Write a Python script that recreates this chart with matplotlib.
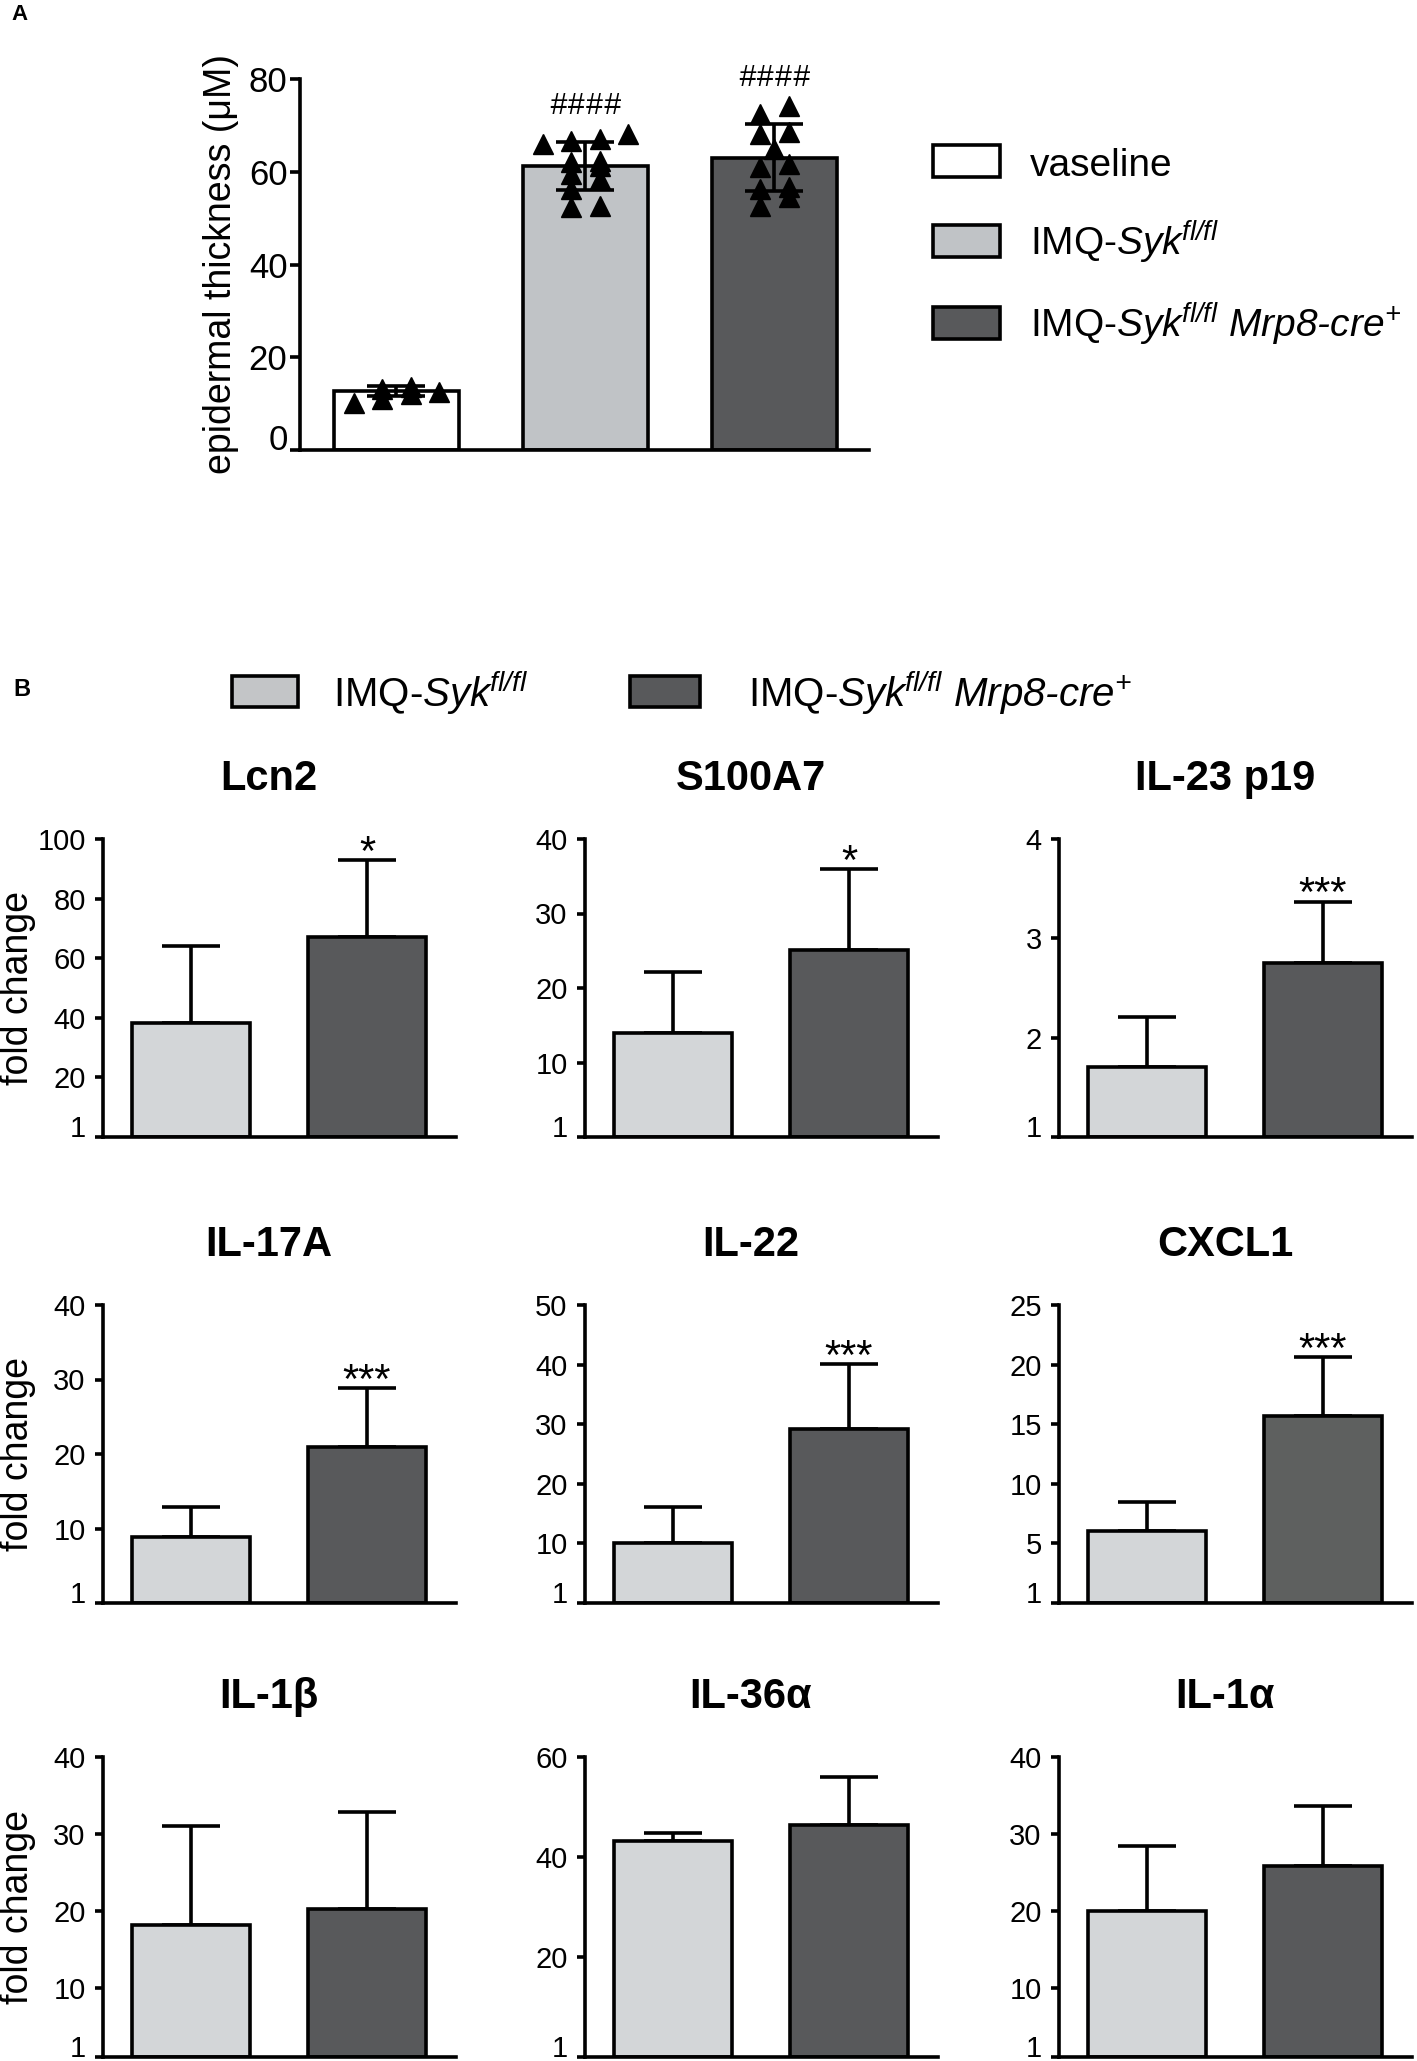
import numpy as np
import matplotlib
matplotlib.use('Agg')
import matplotlib.pyplot as plt
from matplotlib.patches import Rectangle

plt.rcParams['font.family'] = ['Liberation Sans', 'DejaVu Sans']
plt.rcParams['mathtext.fontset'] = 'custom'
plt.rcParams['mathtext.rm'] = 'Liberation Sans:italic'
plt.rcParams['mathtext.it'] = 'Liberation Sans:italic'
plt.rcParams['mathtext.bf'] = 'Liberation Sans:bold'

# ---------------- data ----------------
# Panel A: epidermal thickness
a_groups = ['vaseline', 'IMQ-Syk fl/fl', 'IMQ-Syk fl/fl Mrp8-cre+']
a_means = [12.7, 61.2, 63.0]
a_sd = [1.1, 5.2, 7.2]
a_pts_vaseline = [13.6, 12.5, 10.2, 11.0, 13.2, 12.0]
a_pts_flfl = [66.0, 67.1, 66.7, 68.1, 62.1, 61.3, 62.4, 59.5, 58.5, 56.3, 52.4, 52.7]
a_pts_cre = [72.5, 74.2, 68.5, 68.1, 64.9, 61.7, 61.0, 56.3, 56.7, 54.5, 52.7]
a_sig = ['', '####', '####']
a_yticks = [0, 20, 40, 60, 80]

# Panel B: fold change (mean, upper SD)
b_genes = ['Lcn2', 'S100A7', 'IL-23 p19', 'IL-17A', 'IL-22', 'CXCL1',
           'IL-1β', 'IL-36α', 'IL-1α']
b_flfl_mean = [38.2, 14.0, 1.70, 8.9, 10.1, 6.0, 18.1, 43.2, 20.0]
b_flfl_err = [26.0, 8.1, 0.51, 4.0, 6.0, 2.45, 12.9, 1.6, 8.4]
b_cre_mean = [67.2, 25.1, 2.75, 20.9, 29.2, 15.7, 20.2, 46.5, 25.8]
b_cre_err = [25.8, 10.9, 0.62, 8.0, 10.9, 4.9, 12.7, 9.5, 7.8]
b_sig = ['*', '*', '***', '***', '***', '***', '', '', '']
b_yticks = [[0, 20, 40, 60, 80, 100], [0, 10, 20, 30, 40], [1, 2, 3, 4],
            [0, 10, 20, 30, 40], [0, 10, 20, 30, 40, 50], [0, 5, 10, 15, 20, 25],
            [1, 10, 20, 30, 40], [0, 20, 40, 60], [1, 10, 20, 30, 40]]
b_yticklabels = [['1', '20', '40', '60', '80', '100'], ['1', '10', '20', '30', '40'],
                 ['1', '2', '3', '4'], ['1', '10', '20', '30', '40'],
                 ['1', '10', '20', '30', '40', '50'], ['1', '5', '10', '15', '20', '25'],
                 ['1', '10', '20', '30', '40'], ['1', '20', '40', '60'],
                 ['1', '10', '20', '30', '40']]

# ---------------- style ----------------
W, H, DPI = 1417, 2061, 100
LW = 2.6
C_WHITE = '#ffffff'
C_A_LIGHT = '#c0c3c6'
C_B_LIGHT = '#d3d6d8'
C_DARK = '#58595b'
C_DARK_ALT = {'CXCL1': '#5e605f'}

# mathtext rm is italic here, so everything inside $...$ is italic
LBL_FLFL = r'IMQ-$\mathrm{Syk}^{\mathrm{fl/fl}}$'
LBL_CRE = r'IMQ-$\mathrm{Syk}^{\mathrm{fl/fl}}$ $\mathrm{Mrp8}$$\text{-}$$\mathrm{cre}^{+}$'

fig = plt.figure(figsize=(W / DPI, H / DPI), dpi=DPI)


def px_axes(left, top, right, bottom):
    return fig.add_axes([left / W, 1 - bottom / H, (right - left) / W, (bottom - top) / H])


def fx(x):
    return x / W


def fy(y):
    return 1 - y / H


def style_axes(ax, lab_size, tick_len, pad):
    for s in ['top', 'right']:
        ax.spines[s].set_visible(False)
    for s in ['left', 'bottom']:
        ax.spines[s].set_linewidth(LW)
    ax.tick_params(axis='y', length=tick_len, width=LW, labelsize=lab_size, pad=pad)
    ax.tick_params(axis='x', length=0, labelbottom=False)


def lift_bottom_label(ax):
    labs = ax.get_yticklabels()
    if labs:
        labs[0].set_verticalalignment('baseline')


def swarm(values, bin_width, step):
    v = np.asarray(values, float)
    order = np.argsort(v)
    offs = np.zeros(len(v))
    groups, cur = [], [order[0]]
    for idx in order[1:]:
        if v[idx] - v[cur[0]] <= bin_width:
            cur.append(idx)
        else:
            groups.append(cur)
            cur = [idx]
    groups.append(cur)
    for g in groups:
        n = len(g)
        for k, idx in enumerate(g):
            offs[idx] = (k - (n - 1) / 2) * step
    return offs


# ---------------- Panel A ----------------
fig.text(fx(20), fy(15), 'A', fontsize=16, fontweight='bold', ha='center', va='center')
axA = px_axes(300, 79, 869, 450)
xa = np.arange(len(a_groups))
axA.bar(xa, a_means, width=0.66, color=[C_WHITE, C_A_LIGHT, C_DARK],
        edgecolor='black', linewidth=LW, zorder=2)
for i, pts in enumerate([a_pts_vaseline, a_pts_flfl, a_pts_cre]):
    offs = swarm(pts, 2.5, 0.15)
    axA.plot(xa[i] + offs, pts, linestyle='none', marker='^', markersize=14,
             color='black', zorder=4)
    if a_sig[i]:
        axA.annotate(a_sig[i], xy=(xa[i], max(pts)), xytext=(0, 20),
                     textcoords='offset points', ha='center', va='center',
                     fontsize=22, family='Liberation Mono', annotation_clip=False)
axA.errorbar(xa, a_means, yerr=a_sd, fmt='none', ecolor='black', elinewidth=LW,
             capsize=21, capthick=LW, zorder=3)
axA.set_xlim(-0.51, 2.5)
axA.set_ylim(0, 80)
axA.set_yticks(a_yticks)
style_axes(axA, 25, 7, 2)
lift_bottom_label(axA)
axA.set_ylabel('epidermal thickness (μM)', fontsize=27)
axA.yaxis.set_label_coords(-0.108, 0.5)

# Legend A
for lbl, col, yc in zip(['vaseline', LBL_FLFL, LBL_CRE], [C_WHITE, C_A_LIGHT, C_DARK],
                        [161, 241, 323]):
    fig.patches.append(Rectangle((fx(933), fy(yc + 15.5)), 67 / W, 31 / H,
                                 transform=fig.transFigure, facecolor=col,
                                 edgecolor='black', linewidth=LW))
    fig.text(fx(1030), fy(yc + 15), lbl, fontsize=28, ha='left', va='baseline')

# ---------------- Panel B ----------------
fig.text(fx(22), fy(689), 'B', fontsize=17, fontweight='bold', ha='center', va='center')
fig.patches.append(Rectangle((fx(232), fy(707)), 66 / W, 31 / H, transform=fig.transFigure,
                             facecolor='#c3c5c7', edgecolor='black', linewidth=LW))
fig.text(fx(333), fy(707), LBL_FLFL, fontsize=29, ha='left', va='baseline')
fig.patches.append(Rectangle((fx(630), fy(707)), 70 / W, 31 / H, transform=fig.transFigure,
                             facecolor=C_DARK, edgecolor='black', linewidth=LW))
fig.text(fx(748), fy(707), LBL_CRE, fontsize=29, ha='left', va='baseline')

row_tops = [839, 1305, 1757]
row_bots = [1137, 1603, 2057]
col_lefts = [103, 585, 1059]
AX_W = 353

for k, gene in enumerate(b_genes):
    r, c = divmod(k, 3)
    ax = px_axes(col_lefts[c], row_tops[r], col_lefts[c] + AX_W, row_bots[r])
    ymin, ymax = b_yticks[k][0], b_yticks[k][-1]
    means = [b_flfl_mean[k], b_cre_mean[k]]
    errs = [b_flfl_err[k], b_cre_err[k]]
    x = np.array([0, 1])
    dark = C_DARK_ALT.get(gene, C_DARK)
    ax.bar(x, np.array(means) - ymin, bottom=ymin, width=0.67,
           color=[C_B_LIGHT, dark], edgecolor='black', linewidth=LW, zorder=2)
    ax.errorbar(x, means, yerr=[[0, 0], errs], fmt='none', ecolor='black',
                elinewidth=LW, capsize=21, capthick=LW, zorder=1)
    if b_sig[k]:
        ax.annotate(b_sig[k], xy=(1, means[1] + errs[1]), xytext=(0, -3.5),
                    textcoords='offset points', ha='center', va='baseline',
                    fontsize=30, annotation_clip=False)
    ax.set_xlim(-0.5, 1.506)
    ax.set_ylim(ymin, ymax)
    ax.set_yticks(b_yticks[k])
    ax.set_yticklabels(b_yticklabels[k])
    style_axes(ax, 21, 6, 6.5)
    lift_bottom_label(ax)
    ax.set_title(gene, fontsize=30, fontweight='bold', pad=35, x=0.47)
    if c == 0:
        ax.set_ylabel('fold change', fontsize=27)
        ax.yaxis.set_label_coords(-0.19, 0.5)

fig.savefig('out.png', dpi=DPI)
